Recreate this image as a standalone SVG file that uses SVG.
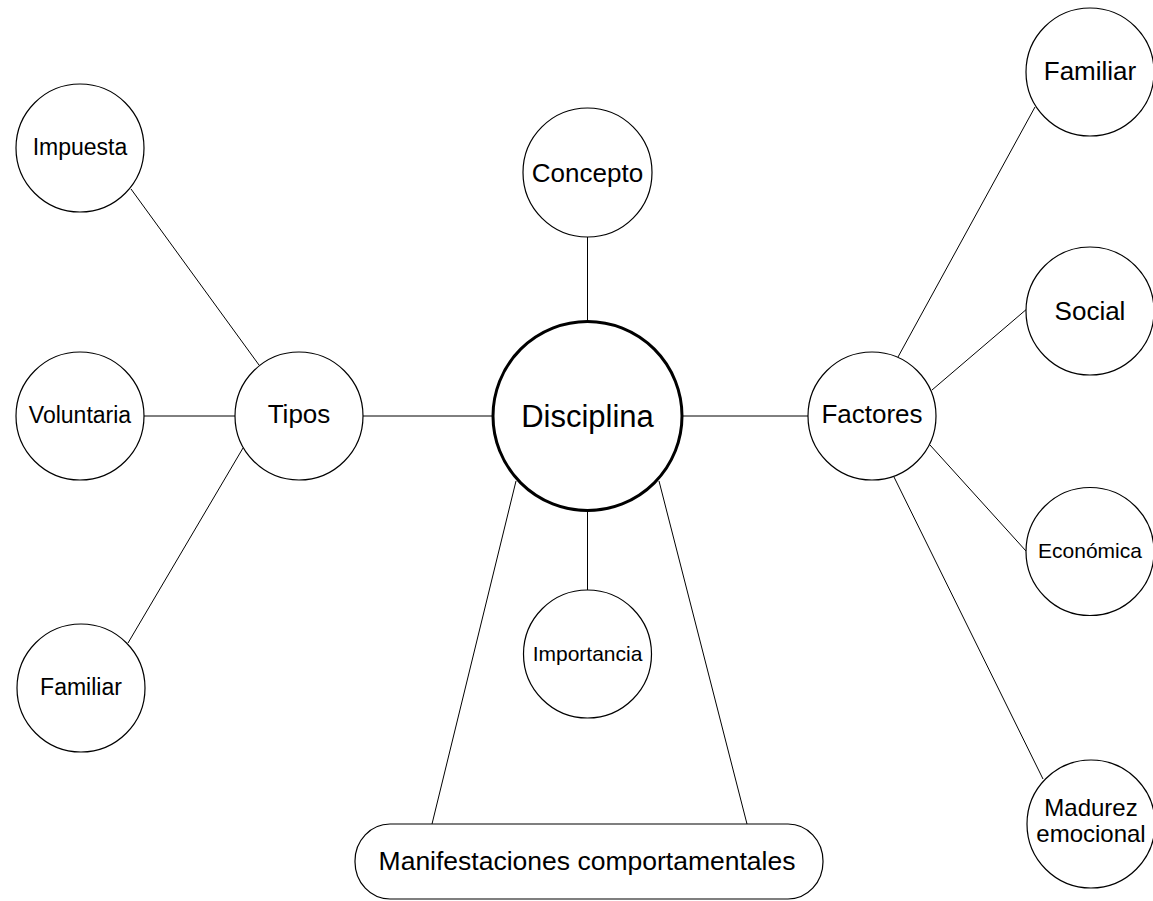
<svg xmlns="http://www.w3.org/2000/svg" width="1153" height="901" viewBox="0 0 1153 901">
<style>
.n{fill:#fff;stroke:#000;stroke-width:1.2}
.c{stroke:#000;stroke-width:1;fill:none}
text{font-family:"Liberation Sans",Arial,sans-serif;fill:#000;text-anchor:middle}
</style>
<rect width="1153" height="901" fill="#fff"/>
<g id="connectors">
<line class="c" x1="587.5" y1="237" x2="587.5" y2="321"/>
<line class="c" x1="587.5" y1="511" x2="587.5" y2="590"/>
<line class="c" x1="363" y1="416" x2="493" y2="416"/>
<line class="c" x1="682" y1="416" x2="808" y2="416"/>
<line class="c" x1="144" y1="416" x2="235" y2="416"/>
<line class="c" x1="131" y1="189" x2="259" y2="365"/>
<line class="c" x1="128" y1="643" x2="243" y2="448"/>
<line class="c" x1="898" y1="357" x2="1035" y2="107"/>
<line class="c" x1="932" y1="390" x2="1028" y2="308"/>
<line class="c" x1="930" y1="445" x2="1026" y2="551"/>
<line class="c" x1="894" y1="477" x2="1043" y2="779"/>
<line class="c" x1="516" y1="481" x2="432" y2="824"/>
<line class="c" x1="659" y1="481" x2="747" y2="824"/>
</g>
<g id="disciplina"><circle cx="587.5" cy="416" r="94.5" fill="#fff" stroke="#000" stroke-width="3"/><text x="587.5" y="427" font-size="31">Disciplina</text></g>
<g id="concepto"><circle class="n" cx="587.5" cy="172.5" r="64.5"/><text x="587.5" y="182" font-size="26">Concepto</text></g>
<g id="importancia"><circle class="n" cx="587.5" cy="654" r="64"/><text x="587.5" y="661" font-size="21">Importancia</text></g>
<g id="tipos"><circle class="n" cx="299" cy="416" r="64"/><text x="299" y="423" font-size="26">Tipos</text></g>
<g id="impuesta"><circle class="n" cx="80" cy="148" r="64"/><text x="80" y="155" font-size="23">Impuesta</text></g>
<g id="voluntaria"><circle class="n" cx="80" cy="416" r="64"/><text x="80" y="423" font-size="23">Voluntaria</text></g>
<g id="familiar-tipos"><circle class="n" cx="81" cy="688" r="64"/><text x="81" y="695" font-size="23">Familiar</text></g>
<g id="factores"><circle class="n" cx="872" cy="416" r="64"/><text x="872" y="423" font-size="26">Factores</text></g>
<g id="familiar-factores"><circle class="n" cx="1090" cy="72" r="64"/><text x="1090" y="80" font-size="26">Familiar</text></g>
<g id="social"><circle class="n" cx="1090" cy="311" r="64"/><text x="1090" y="320" font-size="26">Social</text></g>
<g id="economica"><circle class="n" cx="1090" cy="551.5" r="64"/><text x="1090" y="558" font-size="21">Económica</text></g>
<g id="madurez"><circle class="n" cx="1091" cy="824" r="64"/><text x="1091" y="816" font-size="24">Madurez</text><text x="1091" y="842" font-size="24">emocional</text></g>
<g id="manifestaciones"><rect class="n" x="355" y="824" width="468" height="75" rx="35" ry="37"/><text x="587" y="870" font-size="26.5">Manifestaciones comportamentales</text></g>
</svg>
